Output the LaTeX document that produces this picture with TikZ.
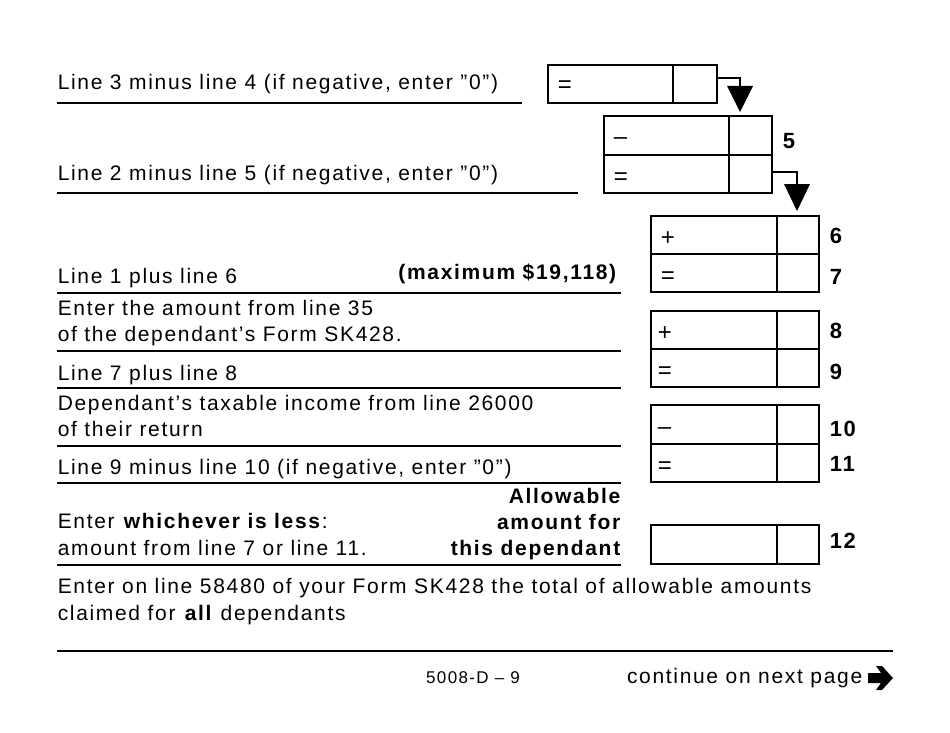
\documentclass[tikz,border=0pt]{standalone}
\usepackage{fontspec}
\setmainfont{Liberation Sans}[LetterSpace=8]
\newcommand\dq{\symbol{34}}
\newcommand\sq{\symbol{39}}
\begin{document}
\begin{tikzpicture}[x=1pt,y=-1pt,line width=1.5pt,
  t/.style={anchor=base west,inner sep=0pt,font=\fontsize{21}{24}\selectfont},
  tr/.style={anchor=base east,inner sep=0pt,font=\fontsize{21}{24}\selectfont\bfseries},
  num/.style={anchor=base west,inner sep=0pt,font=\fontsize{22}{24}\selectfont\bfseries},
  sym/.style={anchor=base west,inner sep=0pt,font=\fontsize{24}{26}\selectfont},
  bx/.style={draw,line width=1.8pt}]
\useasboundingbox (0,0) rectangle (950,733);
% rules
\draw (57,103) -- (522,103);
\draw (57,193) -- (578,193);
\foreach \y in {293,351,388,446,483,565} \draw (57,\y) -- (621,\y);
\draw (57,651) -- (893,651);
% boxes
\newcommand\mybox[5]{% x1 y1 y2 xdiv x2
  \draw[bx] (#1,#2) rectangle (#5,#3); \draw[bx] (#4,#2) -- (#4,#3);}
\mybox{548}{65}{103}{673}{717}
\mybox{604}{116}{155}{729}{772}\mybox{604}{155}{193}{729}{772}
\mybox{651}{216}{254}{777}{819}\mybox{651}{254}{292}{777}{819}
\mybox{651}{311}{349}{777}{819}\mybox{651}{349}{387}{777}{819}
\mybox{651}{405}{444}{777}{819}\mybox{651}{444}{482}{777}{819}
\mybox{651}{525}{564}{777}{819}
% box symbols
\node[sym] (s1) at (557,93) {=};
\node[sym] (s2) at (613,145) {–};
\node[sym] (s3) at (613,184) {=};
\node[sym] (s4) at (660,245) {+};
\node[sym] (s5) at (660,283) {=};
\node[sym] (s6) at (657,340) {+};
\node[sym] (s7) at (657,378) {=};
\node[sym] (s8) at (657,434) {–};
\node[sym] (s9) at (657,473) {=};
% numbers
\node[num] (n5) at (782,149) {5};
\node[num] (n6) at (829,243) {6};
\node[num] (n7) at (829,284) {7};
\node[num] (n8) at (829,338) {8};
\node[num] (n9) at (829,379) {9};
\node[num] (n10) at (829,436) {10};
\node[num] (n11) at (829,471) {11};
\node[num] (n12) at (829,548) {12};
% arrows
\coordinate (a1) at (717,78); \coordinate (a2) at (740,78);
\draw[line width=1.3pt] (a1) -- (a2) -- (740,86);
\fill (727,86) -- (753,86) -- (740,112) -- cycle;
\coordinate (b1) at (772,172); \coordinate (b2) at (797,172);
\draw[line width=1.3pt] (b1) -- (b2) -- (797,184);
\fill (784,184) -- (810,184) -- (797,211) -- cycle;
% texts
\node[t] (l3) at (57,90) {Line 3 minus line 4 (if negative, enter \dq0\dq)};
\node[t] (l2) at (57,180) {Line 2 minus line 5 (if negative, enter \dq0\dq)};
\node[t] (l1) at (57,283) {Line 1 plus line 6};
\node[tr] (mx) at (617,279) {(maximum \$19,118)};
\node[t] (e1) at (57,315) {Enter the amount from line 35};
\node[t] (e2) at (57,341) {of the dependant\sq s Form SK428.};
\node[t] (l7) at (57,380) {Line 7 plus line 8};
\node[t] (d1) at (57,410) {Dependant\sq s taxable income from line 26000};
\node[t] (d2) at (57,436) {of their return};
\node[t] (l9) at (57,474) {Line 9 minus line 10 (if negative, enter \dq0\dq)};
\node[t] (w1) at (57,528) {Enter \textbf{whichever is less}:};
\node[t] (w2) at (57,555) {amount from line 7 or line 11.};
\node[tr] (al1) at (621,503) {Allowable};
\node[tr] (al2) at (621,529) {amount for};
\node[tr] (al3) at (621,555) {this dependant};
\node[t] (p1) at (57,593) {Enter on line 58480 of your Form SK428 the total of allowable amounts};
\node[t] (p2) at (57,620) {claimed for \textbf{all} dependants};
\node[anchor=base,inner sep=0pt,font=\fontsize{17}{19}\selectfont] (pg) at (473,683) {5008-D – 9};
\node[anchor=base east,inner sep=0pt,font=\fontsize{21}{24}\selectfont] (cn) at (863,683) {continue on next page};
\fill (868,673) -- (881,673) -- (876,666) -- (882,666) -- (893,678) -- (882,690) -- (876,690) -- (881,683) -- (868,683) -- cycle;
\end{tikzpicture}
\end{document}
